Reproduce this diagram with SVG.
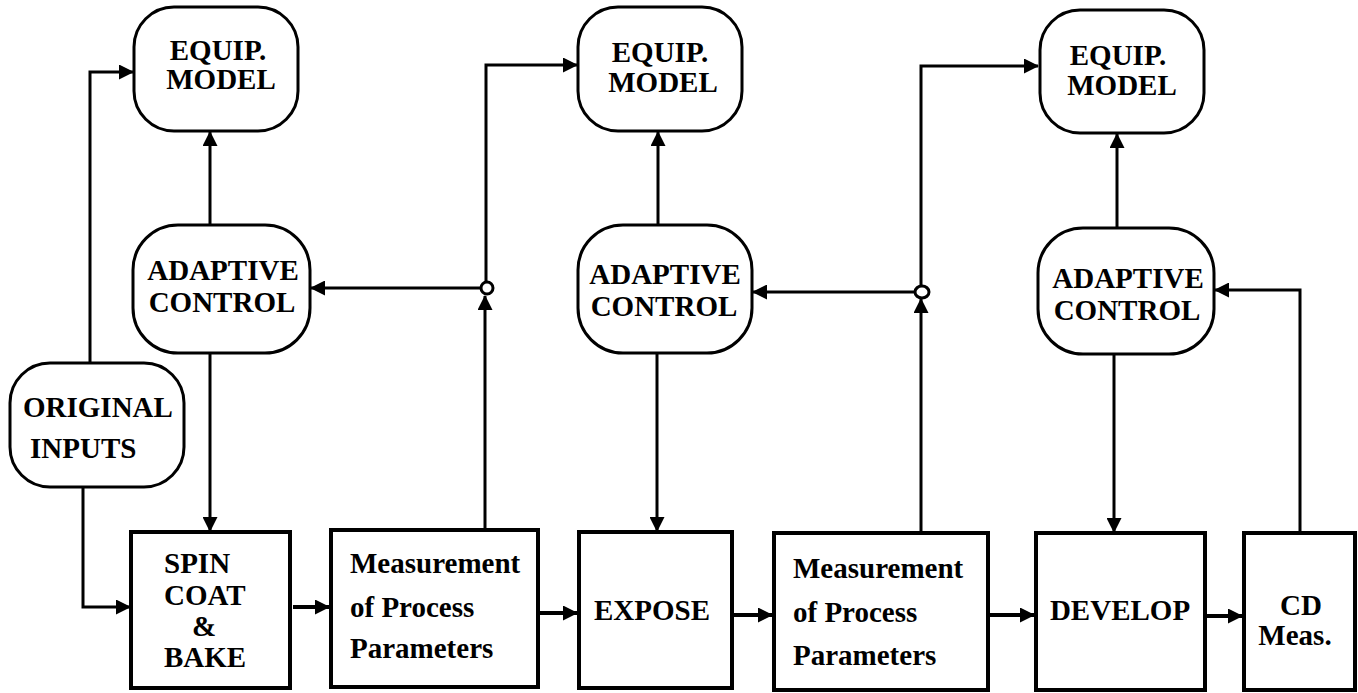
<svg xmlns="http://www.w3.org/2000/svg" width="1358" height="693" viewBox="0 0 1358 693">
  <style>
    .rnd { fill: #fff; stroke: #000; stroke-width: 3; }
    .box { fill: #fff; stroke: #000; stroke-width: 4; }
    text { font-family: Liberation Serif, Times New Roman, Times, serif; font-weight: 700; font-size: 29px; fill: #000; }
    .mid { text-anchor: middle; }
    .wire { fill: none; stroke: #000; stroke-width: 3; marker-end: url(#arr); }
    .flow { fill: none; stroke: #000; stroke-width: 4; marker-end: url(#arr); }
    .node { fill: #fff; stroke: #000; stroke-width: 3; }
  </style>
  <defs>
    <marker id="arr" markerUnits="userSpaceOnUse" markerWidth="15" markerHeight="15" refX="14" refY="7.5" orient="auto">
      <path d="M0,0 L15,7.5 L0,15 z" fill="#000"/>
    </marker>
  </defs>
  <rect width="1358" height="693" fill="#fff"/>

  <!-- connectors -->
  <g id="connectors">
    <path class="wire" d="M90,363 V72 H133"/>
    <path class="wire" d="M83,487 V607 H130"/>
    <path class="wire" d="M210,225 V132"/>
    <path class="wire" d="M210,353 V531"/>
    <path class="flow" d="M293,607 H329"/>
    <path class="wire" d="M485,530 V296"/>
    <path class="wire" d="M481,288 H311"/>
    <path class="wire" d="M486,282 V65 H577"/>
    <path class="wire" d="M658,225 V132"/>
    <path class="wire" d="M657,353 V531"/>
    <path class="flow" d="M536,613 H577"/>
    <path class="flow" d="M732,615 H772"/>
    <path class="wire" d="M921,533 V299"/>
    <path class="wire" d="M915,292 H753"/>
    <path class="wire" d="M921,286 V66 H1038"/>
    <path class="wire" d="M1117,228 V134"/>
    <path class="wire" d="M1114,354 V532"/>
    <path class="flow" d="M988,615 H1034"/>
    <path class="flow" d="M1205,616 H1242"/>
    <path class="wire" d="M1300,533 V290 H1215"/>
    <!-- summing junctions -->
    <circle class="node" cx="487" cy="288" r="6"/>
    <ellipse class="node" cx="922" cy="292" rx="7" ry="6"/>
  </g>

  <!-- upper row: equipment models -->
  <g id="equip1">
    <rect class="rnd" x="134" y="7" width="164" height="124" rx="40"/>
    <text class="mid" x="218" y="60">EQUIP.</text>
    <text class="mid" x="221" y="89">MODEL</text>
  </g>
  <g id="equip2">
    <rect class="rnd" x="578" y="7" width="164" height="124" rx="40"/>
    <text class="mid" x="660" y="62">EQUIP.</text>
    <text class="mid" x="663" y="92">MODEL</text>
  </g>
  <g id="equip3">
    <rect class="rnd" x="1040" y="10" width="164" height="123" rx="40"/>
    <text class="mid" x="1118" y="65">EQUIP.</text>
    <text class="mid" x="1122" y="95">MODEL</text>
  </g>

  <!-- middle row: adaptive controllers -->
  <g id="adaptive1">
    <rect class="rnd" x="133" y="225" width="177" height="128" rx="45"/>
    <text class="mid" x="223" y="280">ADAPTIVE</text>
    <text class="mid" x="222" y="312">CONTROL</text>
  </g>
  <g id="adaptive2">
    <rect class="rnd" x="578" y="225" width="174" height="128" rx="45"/>
    <text class="mid" x="665" y="284">ADAPTIVE</text>
    <text class="mid" x="664" y="316">CONTROL</text>
  </g>
  <g id="adaptive3">
    <rect class="rnd" x="1038" y="228" width="176" height="126" rx="45"/>
    <text class="mid" x="1128" y="288">ADAPTIVE</text>
    <text class="mid" x="1127" y="320">CONTROL</text>
  </g>

  <g id="inputs">
    <rect class="rnd" x="10" y="363" width="174" height="124" rx="40"/>
    <text x="23" y="417">ORIGINAL</text>
    <text x="30" y="458">INPUTS</text>
  </g>

  <!-- lower row: process steps -->
  <g id="spincoat">
    <rect class="box" x="131" y="532" width="159" height="156"/>
    <text x="164" y="573">SPIN</text>
    <text x="164" y="605">COAT</text>
    <text x="192" y="636">&amp;</text>
    <text x="164" y="667">BAKE</text>
  </g>
  <g id="measure1">
    <rect class="box" x="331" y="530" width="207" height="157"/>
    <text x="350" y="573">Measurement</text>
    <text x="350" y="617">of Process</text>
    <text x="350" y="658">Parameters</text>
  </g>
  <g id="expose">
    <rect class="box" x="579" y="532" width="153" height="156"/>
    <text class="mid" x="652" y="620">EXPOSE</text>
  </g>
  <g id="measure2">
    <rect class="box" x="774" y="533" width="214" height="157"/>
    <text x="793" y="578">Measurement</text>
    <text x="793" y="622">of Process</text>
    <text x="793" y="665">Parameters</text>
  </g>
  <g id="develop">
    <rect class="box" x="1036" y="533" width="169" height="157"/>
    <text class="mid" x="1120" y="620">DEVELOP</text>
  </g>
  <g id="cdmeas">
    <rect class="box" x="1244" y="533" width="111" height="157"/>
    <text class="mid" x="1301" y="615">CD</text>
    <text class="mid" x="1295" y="645">Meas.</text>
  </g>
</svg>
